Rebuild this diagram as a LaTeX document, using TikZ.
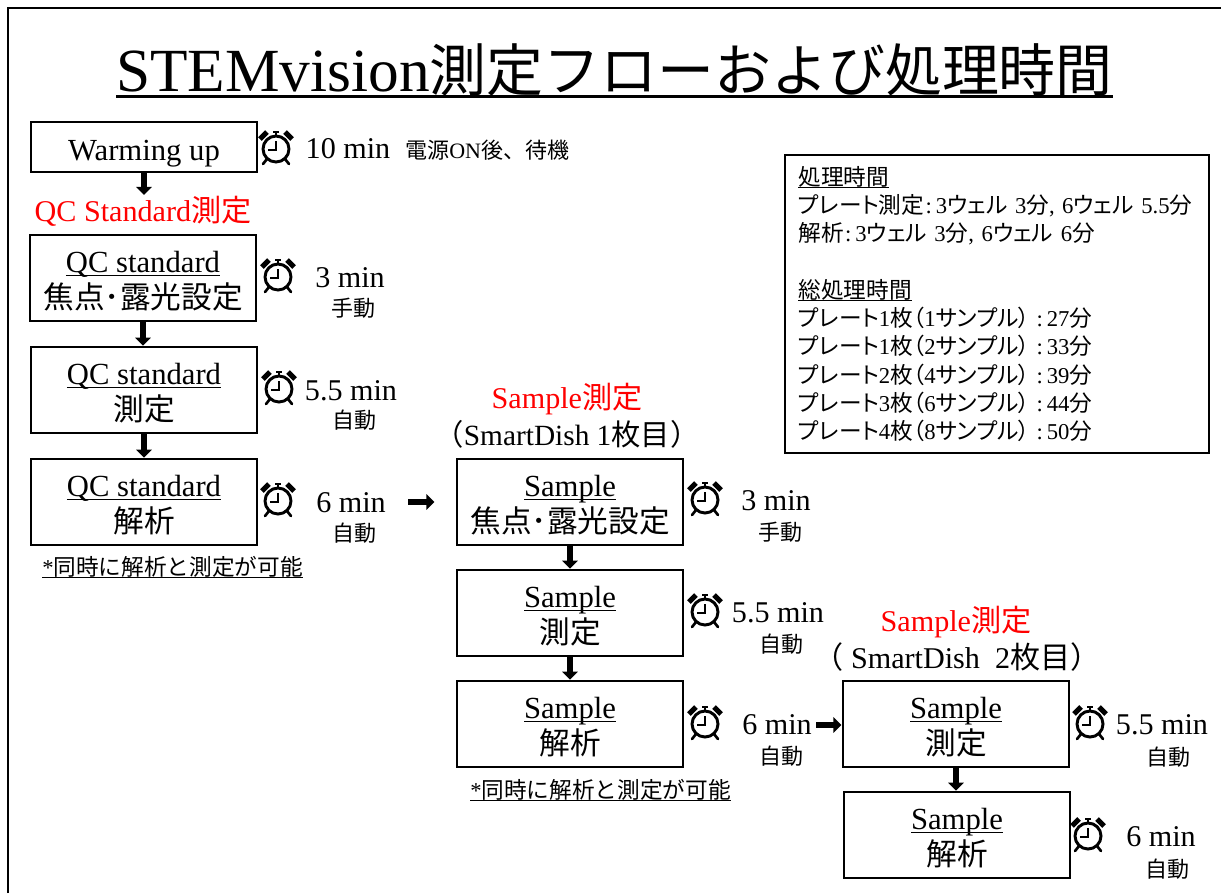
\documentclass[tikz,border=0pt]{standalone}
\usepackage{fontspec}
\usetikzlibrary{arrows.meta}
\setmainfont{Liberation Serif}
\newfontfamily\cjk{Noto Sans CJK JP}
\newfontfamily\cjkp[RawFeature=+palt]{Noto Sans CJK JP}
\newcommand\J[1]{{\cjk #1}}
\newcommand\K[1]{{\cjkp #1}}
\newcommand\ul[2][0.14em]{\leavevmode\setbox0=\hbox{#2}\rlap{\copy0}\rlap{\rule[-#1]{\wd0}{0.05em}}\hbox to\wd0{}}
\newcommand\tops{\rule{0pt}{20pt}}
\newcommand\colA{\hspace{1pt}:\hspace{3pt}}
\newcommand\colB{\hspace{5pt}:\hspace{3pt}}
\tikzset{
  x=0.75pt,y=-0.75pt,
  flowbox/.style={draw=black,line width=1.5pt,minimum width=169.5pt,minimum height=64pt,inner sep=0pt,align=center,font=\fontsize{23}{27}\selectfont},
  warmbox/.style={flowbox,minimum height=37.5pt},
  infobox/.style={draw=black,line width=1.5pt,minimum width=318pt,minimum height=223.5pt,inner sep=0pt,inner xsep=10pt,text width=298pt,align=left,font=\fontsize{17}{21.2}\selectfont},
  bigtext/.style={inner sep=0pt,font=\fontsize{22.6}{27}\selectfont},
  redtext/.style={bigtext,text=red},
  smalltext/.style={inner sep=0pt,font=\fontsize{16.5}{20}\selectfont},
  notetext/.style={inner sep=0pt,font=\fontsize{17}{20}\selectfont},
  powertext/.style={inner sep=0pt,font=\fontsize{16.5}{20}\selectfont},
  blockarrow/.style={line width=5.2pt,-{Triangle[width=11.6pt,length=6pt]},shorten >=0.5pt},
  clockicon/.pic={
    \draw[line width=2.2pt] (0,0) circle[radius=13];
    \draw[line width=1.5pt] (0,-8) -- (0,1) -- (-8,1);
    \draw[line width=1.8pt] (0,-13) -- (0,-17) (-3,-17) -- (3,-17);
    \draw[line width=2pt,line cap=round] (-9,10) -- (-13,15) (9,10) -- (13,15);
    \fill (-10.8,-18.8) -- (-17.8,-11.8) -- (-14.2,-8.2) -- (-7.2,-15.2) -- cycle;
    \fill (10.8,-18.8) -- (17.8,-11.8) -- (14.2,-8.2) -- (7.2,-15.2) -- cycle;
  }
}
\begin{document}
\begin{tikzpicture}
\useasboundingbox (0,0) rectangle (1221,893);
\fill[white] (0,0) rectangle (1221,893);
\coordinate (fa) at (8,893);
\coordinate (fb) at (8,8);
\coordinate (fc) at (1221,8);
\draw[line width=1.5pt] (fa) -- (fb) -- (fc);

\node[inner sep=0pt,font=\fontsize{46}{50}\selectfont] (title) at (614.5,71) {\ul[0.1em]{STEMvision{\fontsize{42.7}{50}\selectfont\J{測定フローおよび処理時間}}}};

\node[warmbox] (w) at (144,147) {\rule{0pt}{25pt}Warming up};
\node[redtext] (lqc) at (143,211) {QC Standard\J{測定}};
\node[flowbox] (q1) at (143,278) {\tops\ul{QC standard}\\\J{焦点･露光設定}};
\node[flowbox] (q2) at (144,390) {\tops\ul{QC standard}\\\J{測定}};
\node[flowbox] (q3) at (144,502) {\tops\ul{QC standard}\\\J{解析}};
\node[flowbox] (s1) at (570,502) {\tops\ul{Sample}\\\J{焦点･露光設定}};
\node[flowbox] (s2) at (570,613) {\tops\ul{Sample}\\\J{測定}};
\node[flowbox] (s3) at (570,724) {\tops\ul{Sample}\\\J{解析}};
\node[flowbox] (t1) at (956,724) {\tops\ul{Sample}\\\J{測定}};
\node[flowbox] (t2) at (957,835) {\tops\ul{Sample}\\\J{解析}};

\node[redtext] (ls1) at (567,399) {Sample\J{測定}};
\node[inner sep=0pt,font=\fontsize{22}{27}\selectfont] (ls2) at (567,434) {\J{（}SmartDish 1\J{枚目）}};
\node[redtext] (lt1) at (956,622) {Sample\J{測定}};
\node[bigtext] (lt2) at (957,657) {\J{（} SmartDish\ \ 2\J{枚目）}};

\node[notetext,anchor=west] (n1) at (42,567) {\ul{*\J{同時に解析と測定が可能}}};
\node[notetext,anchor=west] (n2) at (470,790) {\ul{*\J{同時に解析と測定が可能}}};

\pic (c0) at (276,149) {clockicon};
\pic (c1) at (278,277) {clockicon};
\pic (c2) at (279,389) {clockicon};
\pic (c3) at (278,501) {clockicon};
\pic (c4) at (705,500) {clockicon};
\pic (c5) at (705,612) {clockicon};
\pic (c6) at (705,724) {clockicon};
\pic (c7) at (1090,724) {clockicon};
\pic (c8) at (1088,836) {clockicon};

\node[bigtext] (m0) at (348,149) {10 min};
\node[powertext,anchor=west] (m0n) at (405,150) {\J{電源}ON\J{後、待機}};
\node[bigtext] (m1) at (350,278) {3 min};
\node[smalltext] (h1) at (353,308) {\J{手動}};
\node[bigtext] (m2) at (351,391) {5.5 min};
\node[smalltext] (h2) at (354,420) {\J{自動}};
\node[bigtext] (m3) at (351,503) {6 min};
\node[smalltext] (h3) at (354,533) {\J{自動}};
\node[bigtext] (m4) at (776,501) {3 min};
\node[smalltext] (h4) at (780,532) {\J{手動}};
\node[bigtext] (m5) at (778,613) {5.5 min};
\node[smalltext] (h5) at (781,644) {\J{自動}};
\node[bigtext] (m6) at (777,725) {6 min};
\node[smalltext] (h6) at (781,756) {\J{自動}};
\node[bigtext] (m7) at (1162,725) {5.5 min};
\node[smalltext] (h7) at (1168,757) {\J{自動}};
\node[bigtext] (m8) at (1161,837) {6 min};
\node[smalltext] (h8) at (1167,869) {\J{自動}};

\node[infobox] (info) at (997,304) {\ul{\K{処理時間}}\\
\K{プレート測定}\colA 3\K{ウェル} 3\K{分}, 6\K{ウェル} 5.5\K{分}\\
\K{解析}\colA 3\K{ウェル} 3\K{分}, 6\K{ウェル} 6\K{分}\\[21.2pt]
\ul{\K{総処理時間}}\\
\K{プレート}1\K{枚（}1\K{サンプル）}\colB 27\K{分}\\
\K{プレート}1\K{枚（}2\K{サンプル）}\colB 33\K{分}\\
\K{プレート}2\K{枚（}4\K{サンプル）}\colB 39\K{分}\\
\K{プレート}3\K{枚（}6\K{サンプル）}\colB 44\K{分}\\
\K{プレート}4\K{枚（}8\K{サンプル）}\colB 50\K{分}};

\coordinate (a1s) at (408,502);
\coordinate (a1e) at (435,502);
\coordinate (a2s) at (816,725);
\draw[blockarrow] (w.south) -- (w.south |- lqc.north);
\draw[blockarrow] (q1.south) -- (q1.south |- q2.north);
\draw[blockarrow] (q2.south) -- (q2.south |- q3.north);
\draw[blockarrow] (a1s) -- (a1e);
\draw[blockarrow] (s1.south) -- (s2.north);
\draw[blockarrow] (s2.south) -- (s3.north);
\draw[blockarrow] (a2s) -- (t1.west |- a2s);
\draw[blockarrow] (t1.south) -- (t1.south |- t2.north);
\end{tikzpicture}
\end{document}
